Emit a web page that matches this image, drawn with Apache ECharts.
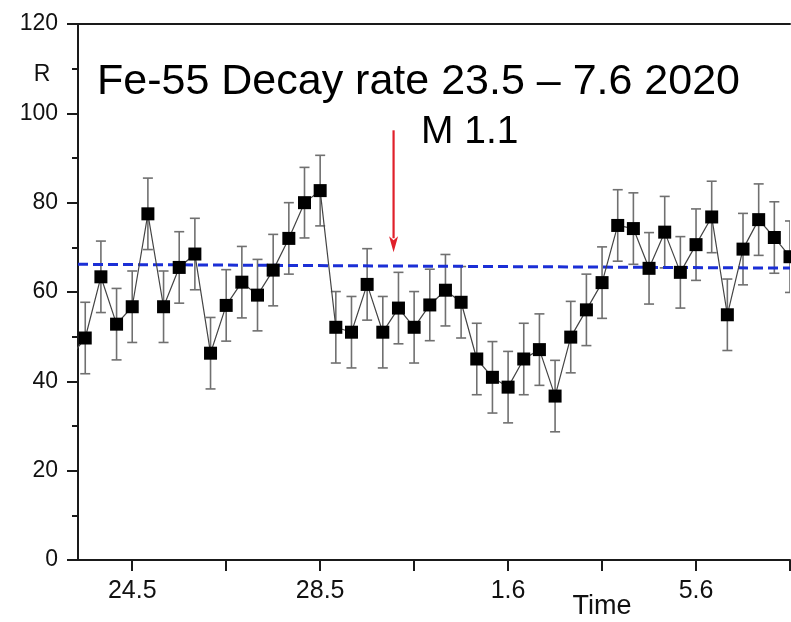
<!DOCTYPE html>
<html>
<head>
<meta charset="utf-8">
<script src="https://cdn.jsdelivr.net/npm/echarts@6/dist/echarts.min.js"></script>
<style>html,body{margin:0;padding:0;background:#fff}#c{width:791px;height:622px}</style>
</head>
<body>
<div id="c"></div>
<script>
// hours since 24.5 00:00 (8 h spacing)
const hours = [-32, -24, -16, -8, 0, 8, 16, 24, 32, 40, 48, 56, 64, 72, 80, 88, 96, 104, 112, 120, 128, 136, 144, 152, 160, 168, 176, 184, 192, 200, 208, 216, 224, 232, 240, 248, 256, 264, 272, 280, 288, 296, 304, 312, 320, 328, 336];
const rates = [45.2, 49.7, 63.4, 52.8, 56.7, 77.5, 56.7, 65.5, 68.5, 46.3, 57.0, 62.2, 59.3, 64.9, 72.0, 80.0, 82.7, 52.1, 51.0, 61.7, 51.0, 56.4, 52.1, 57.1, 60.4, 57.7, 45.0, 40.9, 38.7, 45.0, 47.1, 36.7, 49.9, 56.0, 62.1, 74.9, 74.2, 65.3, 73.4, 64.4, 70.6, 76.8, 54.9, 69.6, 76.2, 72.2, 67.9];
const errors = [8, 8, 8, 8, 8, 8, 8, 8, 8, 8, 8, 8, 8, 8, 8, 7.9, 7.9, 8, 8, 8, 8, 8, 8, 8, 8, 8, 8, 8, 8, 8, 8, 8, 8, 8, 8, 8, 8, 8, 8, 8, 8, 8, 8, 8, 8, 8, 8];
const fitLine = [[-27.7, 66.2], [336, 65.35]];
const tickHours = [0, 48, 96, 144, 192, 240, 288, 336];
const labelHours = [0, 96, 192, 288];
const tickLabels = ['24.5', '28.5', '1.6', '5.6'];
const arrow = [[133.5, 96.2, 68.9]];
const titleText = 'Fe-55 Decay rate 23.5 \u2013 7.6 2020';
const noteText = 'M 1.1';

const FONT = '"Liberation Sans", Arial, Helvetica, sans-serif';
const points = hours.map((h, i) => [h, rates[i]]);
const bars = hours.map((h, i) => [h, rates[i] - errors[i], rates[i] + errors[i]]);

const chart = echarts.init(document.getElementById('c'), null, {renderer: 'canvas'});
chart.setOption({
  animation: false,
  backgroundColor: '#fff',
  grid: {left: 78, right: 1, top: 24, bottom: 62, containLabel: false, outerBoundsMode: 'none'},
  xAxis: [{
    type: 'value', min: -27.7, max: 336,
    axisLine: {show: true, onZero: false, lineStyle: {color: '#1a1a1a', width: 2}},
    axisTick: {show: true, length: 11, customValues: tickHours, lineStyle: {color: '#1a1a1a', width: 2}},
    axisLabel: {
      show: true, customValues: labelHours, margin: 19, fontSize: 25, color: '#111', fontFamily: FONT,
      formatter: v => { const k = labelHours.indexOf(v); return k >= 0 ? tickLabels[k] : ''; }
    },
    splitLine: {show: false}
  }, {
    type: 'value', position: 'top', min: -27.7, max: 336,
    axisLine: {show: true, onZero: false, lineStyle: {color: '#1a1a1a', width: 2}},
    axisTick: {show: false}, axisLabel: {show: false}, splitLine: {show: false}
  }],
  yAxis: {
    type: 'value', min: 0, max: 120, interval: 20,
    axisLine: {show: true, onZero: false, lineStyle: {color: '#1a1a1a', width: 2}},
    axisTick: {show: true, length: 11, lineStyle: {color: '#1a1a1a', width: 2}},
    minorTick: {show: true, splitNumber: 2, length: 6, lineStyle: {color: '#1a1a1a', width: 2}},
    axisLabel: {margin: 20, fontSize: 23, color: '#111', fontFamily: FONT},
    splitLine: {show: false}
  },
  series: [
    {
      type: 'custom', name: 'err', clip: true, z: 2,
      data: bars,
      renderItem: (params, api) => {
        const x = api.value(0);
        const lo = api.coord([x, api.value(1)]);
        const hi = api.coord([x, api.value(2)]);
        const w = 5;
        const st = {stroke: '#707070', lineWidth: 1.6};
        return {type: 'group', children: [
          {type: 'line', shape: {x1: lo[0], y1: lo[1], x2: hi[0], y2: hi[1]}, style: st},
          {type: 'line', shape: {x1: lo[0] - w, y1: lo[1], x2: lo[0] + w, y2: lo[1]}, style: st},
          {type: 'line', shape: {x1: hi[0] - w, y1: hi[1], x2: hi[0] + w, y2: hi[1]}, style: st}
        ]};
      }
    },
    {
      type: 'line', name: 'fit', data: fitLine, symbol: 'none', z: 3,
      lineStyle: {color: '#1b2fd6', width: 3, type: [10, 5]}
    },
    {
      type: 'line', name: 'R', data: points, clip: true, z: 4,
      symbol: 'rect', symbolSize: 13,
      itemStyle: {color: '#000'},
      lineStyle: {color: '#444', width: 1.2}
    },
    {
      type: 'custom', name: 'arrow', z: 5, data: arrow,
      renderItem: (params, api) => {
        const x = api.value(0);
        const a = api.coord([x, api.value(1)]);
        const b = api.coord([x, api.value(2)]);
        const hl = 16, hw = 4.5;
        return {type: 'group', children: [
          {type: 'line', shape: {x1: a[0], y1: a[1], x2: b[0], y2: b[1] - hl + 2}, style: {stroke: '#e0202a', lineWidth: 2.2}},
          {type: 'polygon', shape: {points: [[b[0], b[1]], [b[0] - hw, b[1] - hl], [b[0], b[1] - hl + 4], [b[0] + hw, b[1] - hl]]}, style: {fill: '#e0202a'}}
        ]};
      }
    }
  ],
  graphic: [
    {type: 'text', left: 97, top: 61, style: {text: titleText, font: '43px ' + FONT, fill: '#000'}},
    {type: 'text', left: 421, top: 113, style: {text: noteText, font: '39px ' + FONT, fill: '#000'}},
    {type: 'text', x: 42, y: 75, style: {text: 'R', font: '23px ' + FONT, fill: '#111', textAlign: 'center', textVerticalAlign: 'middle'}},
    {type: 'text', x: 602, y: 607, style: {text: 'Time', font: '27px ' + FONT, fill: '#111', textAlign: 'center', textVerticalAlign: 'middle'}}
  ]
});
</script>
</body>
</html>
